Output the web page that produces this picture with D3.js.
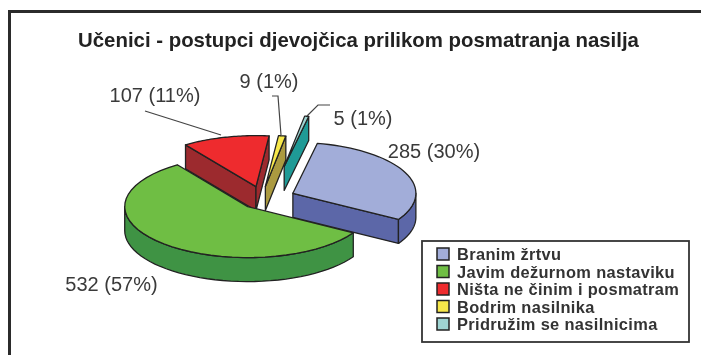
<!DOCTYPE html>
<html>
<head>
<meta charset="utf-8">
<script src="https://cdn.jsdelivr.net/npm/d3@7"></script>
<style>
  html, body { margin: 0; padding: 0; background: #fff; }
  svg { display: block; filter: blur(0.4px); }
  text { font-family: "Liberation Sans", Arial, sans-serif; }
</style>
</head>
<body>
<div id="chart"></div>
<script>
// Values
const categories = ["Branim žrtvu", "Javim dežurnom nastaviku", "Ništa ne činim i posmatram", "Bodrim nasilnika", "Pridružim se nasilnicima"];
const counts = [285, 532, 107, 9, 5];
const percents = [30, 57, 11, 1, 1];
const explode = [0.23, 0.23, 0.23, 0.23, 0.63];
const shiftX = [0, 0, -4, -5.5, 3]; // hand moved slices in the original

const topColors = ["#a2add9", "#6fbe44", "#ee2b2e", "#f7e84a", "#9fd5d3"];
const sideColors = ["#5c67a8", "#3f9344", "#9c2a2e", "#ab9a40", "#1f9a96"];

const width = 701;
const height = 355;
const cx = 267, cy = 198;   // pie centre
const rx = 123, ry = 51;    // ellipse of the tilted pie
const depth = 24;
const outline = "#222";

const svg = d3.select("#chart")
  .append("svg")
  .attr("width", width)
  .attr("height", height);

// Frame, only left and top edges are in the crop
svg.append("path")
  .attr("d", "M9.5,355V11.5H701")
  .attr("fill", "none")
  .attr("stroke", "#2b2b2b")
  .attr("stroke-width", 3);

svg.append("text")
  .attr("x", 358.5)
  .attr("y", 47)
  .attr("text-anchor", "middle")
  .style("font-size", "20.4px")
  .style("font-weight", "bold")
  .attr("fill", "#222")
  .text("Učenici - postupci djevojčica prilikom posmatranja nasilja");

// Pie layout keeps the data order, clockwise from the start angle
const startAngle = 11.5 * Math.PI / 180;
const slices = d3.pie()
  .sort(null)
  .startAngle(startAngle)
  .endAngle(startAngle + 2 * Math.PI)(counts);

// Project an angle on the pie to the screen
const px = a => rx * Math.sin(a);
const py = a => -ry * Math.cos(a);

slices.forEach((s, i) => {
  const mid = (s.startAngle + s.endAngle) / 2;
  s.ox = cx + explode[i] * px(mid) + shiftX[i];
  s.oy = cy + explode[i] * py(mid);
  s.color = i;
});

function rim(s, a0, a1, dy) {
  const steps = d3.range(0, 41).map(k => a0 + (a1 - a0) * k / 40);
  return steps.map(a => [s.ox + px(a), s.oy + py(a) + dy]);
}

const line = d3.line();

function facet(points, fill) {
  svg.append("path")
    .attr("d", line(points) + "Z")
    .attr("fill", fill)
    .attr("stroke", outline)
    .attr("stroke-width", 1.3)
    .attr("stroke-linejoin", "round");
}

function cutWall(s, a) {
  return [[s.ox, s.oy], [s.ox + px(a), s.oy + py(a)], [s.ox + px(a), s.oy + py(a) + depth], [s.ox, s.oy + depth]];
}

function drawWalls(s) {
  const side = sideColors[s.color];
  // a cut face only shows when it turns toward the viewer
  if (Math.sin(s.startAngle) < 0) facet(cutWall(s, s.startAngle), side);
  if (Math.sin(s.endAngle) > 0) facet(cutWall(s, s.endAngle), side);
  // outer wall, the front half of the ellipse only
  const from = Math.max(s.startAngle, Math.PI / 2);
  const to = Math.min(s.endAngle, 3 * Math.PI / 2);
  if (to > from) {
    facet(rim(s, from, to, 0).concat(rim(s, from, to, depth).reverse()), side);
  }
}

function drawTop(s) {
  facet([[s.ox, s.oy]].concat(rim(s, s.startAngle, s.endAngle, 0)), topColors[s.color]);
}

// Back slices first so the green one sits in front
[3, 4, 2, 0, 1].forEach(i => {
  drawWalls(slices[i]);
  drawTop(slices[i]);
});

// Leader lines
const leaders = [
  [[145, 111], [221, 135]],
  [[272, 96], [278, 96], [281, 135]],
  [[330, 105], [318, 105], [307, 116]]
];
svg.selectAll(".leader")
  .data(leaders)
  .enter()
  .append("path")
  .attr("class", "leader")
  .attr("d", d => line(d))
  .attr("fill", "none")
  .attr("stroke", "#444")
  .attr("stroke-width", 1.2);

// Data labels
const labelX = [434, 111.5, 155, 269, 363];
const labelY = [158, 291, 102, 88, 125];
svg.selectAll(".label")
  .data(counts)
  .enter()
  .append("text")
  .attr("class", "label")
  .attr("x", (d, i) => labelX[i])
  .attr("y", (d, i) => labelY[i])
  .attr("text-anchor", "middle")
  .style("font-size", "20px")
  .attr("fill", "#3a3a3a")
  .text((d, i) => `${d} (${percents[i]}%)`);

// Legend
svg.append("rect")
  .attr("x", 422)
  .attr("y", 241)
  .attr("width", 267)
  .attr("height", 101)
  .attr("fill", "#fff")
  .attr("stroke", "#333")
  .attr("stroke-width", 1.8);

const legendY = d3.scalePoint()
  .domain(categories)
  .range([254, 324]);

const legend = svg.selectAll(".legendRow")
  .data(categories)
  .enter()
  .append("g")
  .attr("class", "legendRow")
  .attr("transform", d => `translate(0, ${legendY(d)})`);

legend.append("rect")
  .attr("x", 437)
  .attr("y", -6)
  .attr("width", 12)
  .attr("height", 12)
  .attr("fill", (d, i) => topColors[i])
  .attr("stroke", "#222")
  .attr("stroke-width", 1.5);

legend.append("text")
  .attr("x", 457)
  .attr("y", 6)
  .style("font-size", "16.4px")
  .style("font-weight", "bold")
  .style("letter-spacing", "0.35px")
  .attr("fill", "#333")
  .text(d => d);
</script>
</body>
</html>
